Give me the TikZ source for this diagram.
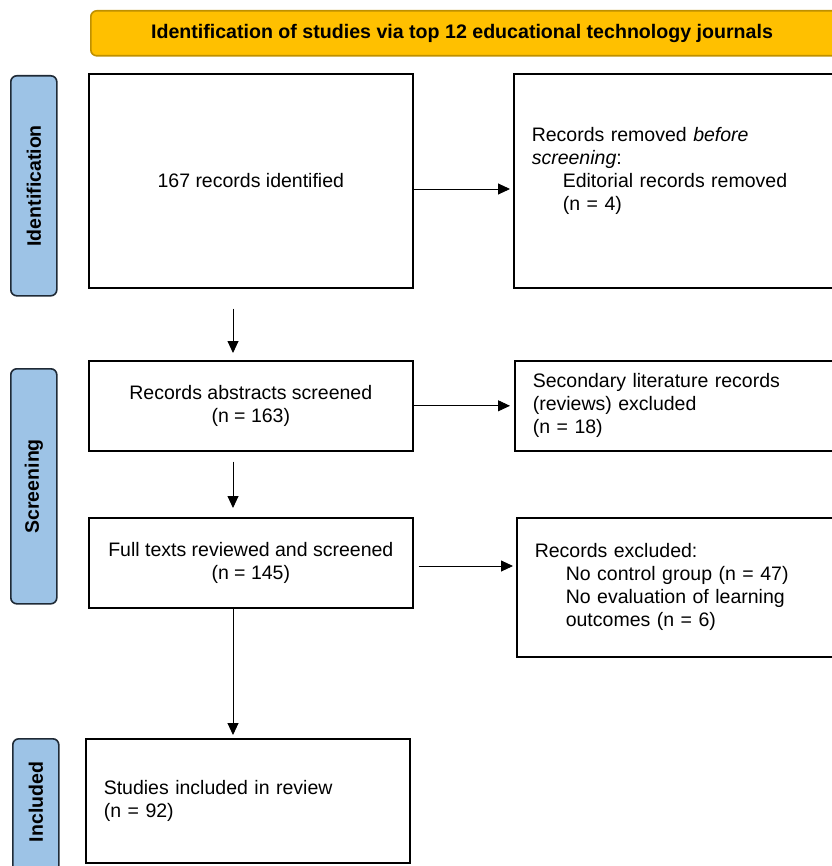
\documentclass[tikz,border=0pt]{standalone}
\usepackage{fontspec}
\setmainfont{Liberation Sans}
\usetikzlibrary{arrows.meta,calc}
\definecolor{titleorange}{HTML}{FFC000}
\definecolor{titleborder}{HTML}{BF9000}
\definecolor{sideblue}{HTML}{9DC3E6}
\definecolor{sideborder}{HTML}{1F2A36}
\begin{document}
\begin{tikzpicture}[x=1pt,y=-1pt,
  every node/.style={font=\fontsize{19.5}{23}\selectfont},
  box/.style={draw=black, line width=1.6pt, fill=white, anchor=north west, inner ysep=0pt},
  sidebar/.style={draw=sideborder, fill=sideblue, line width=1.6pt, rounded corners=6pt,
    anchor=north west, minimum width=46pt, inner sep=0pt},
  sidelabel/.style={rotate=90, font=\fontsize{19.5}{23}\selectfont\bfseries},
  arr/.style={-{Triangle[length=12pt,width=11pt]}, line width=0.9pt, black}]
\useasboundingbox (0,0) rectangle (831,866);
% title
\node[draw=titleborder, fill=titleorange, line width=1.6pt, rounded corners=6pt,
  anchor=north west, minimum width=760pt, minimum height=45pt, inner sep=0pt] (title) at (90,10) {};
\node[font=\fontsize{19.6}{23}\selectfont\bfseries] (titletext) at (462,33) {Identification of studies via top 12 educational technology journals};
% side bars
\node[sidebar, minimum height=220pt] (sid) at (10,75) {};
\node[sidelabel] (sidt) at (sid.center) {Identification};
\node[sidebar, minimum height=235pt] (sscr) at (10,368) {};
\node[sidelabel] (sscrt) at (sscr.center) {Screening};
\node[sidebar, minimum height=140pt] (sinc) at (12,738) {};
\node[sidelabel] (sinct) at ($(sinc.north)+(0,64)$) {Included};
% boxes
\node[box, minimum width=324pt, minimum height=214pt, align=center] (b1) at (88,73) {167 records identified};
\node[box, minimum width=330pt, minimum height=214pt, text width=294pt, inner xsep=18pt, align=left] (r1) at (513,73)
  {Records removed \textit{before}\\\textit{screening}:\\\hspace*{31pt}Editorial records removed\\\hspace*{31pt}(n = 4)\\\mbox{}};
\node[box, minimum width=324pt, minimum height=90pt, align=center] (b2) at (88,360) {Records abstracts screened\\(n = 163)};
\node[box, minimum width=330pt, minimum height=90pt, text width=294pt, inner xsep=18pt, align=left] (r2) at (514,360)
  {Secondary literature records\\(reviews) excluded\\(n = 18)};
\node[box, minimum width=324pt, minimum height=90pt, align=center] (b3) at (88,517) {Full texts reviewed and screened\\(n = 145)};
\node[box, minimum width=330pt, minimum height=139pt, text width=294pt, inner xsep=18pt, align=left] (r3) at (516,517)
  {Records excluded:\\\hspace*{31pt}No control group (n = 47)\\\hspace*{31pt}No evaluation of learning\\\hspace*{31pt}outcomes (n = 6)};
\node[box, minimum width=324pt, minimum height=124pt, text width=288pt, inner xsep=18pt, align=left] (b4) at (85,738)
  {Studies included in review\\(n = 92)};
% connectors
\coordinate (ax) at (233,0);
\coordinate (ay1) at (0,189);
\coordinate (ay3) at (0,566);
\draw[arr, shorten <=20pt, shorten >=7pt] (b1.south -| ax) -- (b2.north -| ax);
\draw[arr, shorten <=10pt, shorten >=9pt] (b2.south -| ax) -- (b3.north -| ax);
\draw[arr, shorten >=3pt] (b3.south -| ax) -- (b4.north -| ax);
\draw[arr, shorten >=3pt] (b1.east |- ay1) -- (r1.west |- ay1);
\draw[arr, shorten >=4pt] (b2.east) -- (b2.east -| r2.west);
\draw[arr, shorten <=5pt, shorten >=3pt] (b3.east |- ay3) -- (r3.west |- ay3);
\end{tikzpicture}
\end{document}
